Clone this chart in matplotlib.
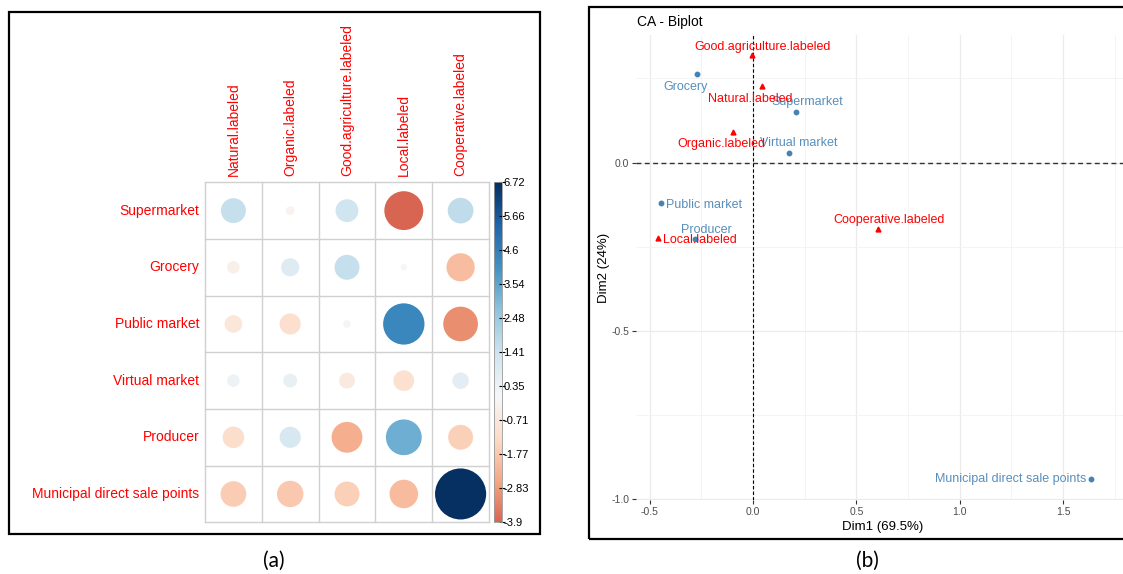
import numpy as np
import matplotlib
matplotlib.use("Agg")
import matplotlib.pyplot as plt
from matplotlib.patches import Circle, Rectangle
from matplotlib.colors import Normalize

plt.rcParams['font.family'] = ['Liberation Sans', 'DejaVu Sans']

# ---- data: (a) residuals of outlet x label ----
outlets = ["Supermarket", "Grocery", "Public market", "Virtual market",
           "Producer", "Municipal direct sale points"]
labels = ["Natural.labeled", "Organic.labeled", "Good.agriculture.labeled",
          "Local.labeled", "Cooperative.labeled"]
res_supermarket = [1.6, -0.2, 1.35, -3.9, 1.7]
res_grocery = [-0.4, 0.85, 1.6, 0.1, -2.05]
res_public = [-0.8, -1.15, 0.15, 4.4, -3.1]
res_virtual = [0.4, 0.5, -0.65, -1.1, 0.7]
res_producer = [-1.2, 1.15, -2.45, 3.3, -1.6]
res_municipal = [-1.7, -1.8, -1.6, -2.1, 6.72]
cbar_ticks = [6.72, 5.66, 4.6, 3.54, 2.48, 1.41, 0.35, -0.71, -1.77, -2.83, -3.9]

# ---- data: (b) CA coordinates ----
row_dim1 = [0.210, -0.271, -0.445, 0.174, -0.279, 1.634]
row_dim2 = [0.151, 0.263, -0.121, 0.029, -0.226, -0.939]
col_dim1 = [0.044, -0.095, -0.003, -0.458, 0.603]
col_dim2 = [0.228, 0.092, 0.320, -0.224, -0.198]

# label offsets in points (text placement only)
row_off = [(7.7, 6.8, 'center'), (-8.1, -9.4, 'center'), (3.6, -1.0, 'left'),
           (7.4, 7.0, 'center'), (8.2, 6.5, 'center'), (-3.4, 0.0, 'right')]
col_off = [(-8.6, -9.4, 'center'), (-8.4, -9.1, 'center'), (7.5, 5.8, 'center'),
           (3.2, -1.2, 'left'), (8.1, 6.5, 'center')]

W, H = 1123, 574
fig = plt.figure(figsize=(W / 100, H / 100), dpi=100)


def px_axes(x0, y0, x1, y1):
    return fig.add_axes([x0 / W, 1 - y1 / H, (x1 - x0) / W, (y1 - y0) / H])


# frames
fig.add_artist(Rectangle((9 / W, 1 - 534 / H), 531 / W, 521.7 / H, transform=fig.transFigure,
                         fill=False, ec='black', lw=1.6))
fig.add_artist(Rectangle((589.3 / W, 1 - 539 / H), 540 / W, 532.3 / H, transform=fig.transFigure,
                         fill=False, ec='black', lw=1.6))

# ---------------- (a) corrplot ----------------
resid = np.array([res_supermarket, res_grocery, res_public, res_virtual,
                  res_producer, res_municipal])
vmax = np.abs(resid).max()
cmap = plt.get_cmap('RdBu')
norm = Normalize(-vmax, vmax)

ax = px_axes(205, 182.3, 489, 522.3)
ax.set_xlim(0, len(labels))
ax.set_ylim(len(outlets), 0)
for i in range(len(outlets)):
    for j in range(len(labels)):
        v = resid[i, j]
        r = 0.45 * np.sqrt(abs(v) / vmax)
        ax.add_patch(Circle((j + 0.5, i + 0.5), r, color=cmap(norm(v)), lw=0))
for k in range(len(labels) + 1):
    ax.axvline(k, color='#D0D0D0', lw=1, clip_on=False)
for k in range(len(outlets) + 1):
    ax.axhline(k, color='#D0D0D0', lw=1, clip_on=False)
for s in ax.spines.values():
    s.set_visible(False)
ax.set_xticks([])
ax.set_yticks([])
for i, name in enumerate(outlets):
    ax.text(-0.1, i + 0.5, name, color='red', fontsize=10, ha='right', va='center')
for j, name in enumerate(labels):
    ax.text(j + 0.5, -0.12, name, color='red', fontsize=10, rotation=90,
            ha='center', va='bottom')

cax = px_axes(494, 182, 502, 522)
grad = np.linspace(min(cbar_ticks), max(cbar_ticks), 300).reshape(-1, 1)
cax.imshow(grad, aspect='auto', cmap=cmap, norm=norm, origin='lower',
           extent=(0, 1, min(cbar_ticks), max(cbar_ticks)))
cax.set_xticks([])
cax.yaxis.tick_right()
cax.set_yticks(cbar_ticks)
cax.set_yticklabels([f"{t:g}" for t in cbar_ticks])
cax.tick_params(axis='y', direction='inout', length=4, width=0.8, pad=-1, labelsize=8)
for s in cax.spines.values():
    s.set_color('#999999')
    s.set_linewidth(0.6)

# ---------------- (b) CA biplot ----------------
bx = px_axes(636, 35, 1130, 500)
bx.set_xlim(-0.566, 1.824)
bx.set_ylim(-1.002, 0.379)
bx.set_xticks([-0.5, 0.0, 0.5, 1.0, 1.5])
bx.set_xticklabels(["-0.5", "0.0", "0.5", "1.0", "1.5"])
bx.set_yticks([-1.0, -0.5, 0.0])
bx.set_yticklabels(["-1.0", "-0.5", "0.0"])
bx.set_xticks([-0.25, 0.25, 0.75, 1.25, 1.75], minor=True)
bx.set_yticks([-0.75, -0.25, 0.25], minor=True)
bx.grid(True, which='major', color='#EBEBEB', lw=0.9)
bx.grid(True, which='minor', color='#F3F3F3', lw=0.6)
bx.set_axisbelow(True)
bx.tick_params(which='major', length=3, width=0.8, color='#333333', labelsize=7.5,
               labelcolor='#4D4D4D', pad=2)
bx.tick_params(which='minor', length=0)
for s in bx.spines.values():
    s.set_visible(False)
bx.axhline(0, color='#333333', lw=1, dashes=(3.5, 2.5))
bx.axvline(0, color='black', lw=0.8, dashes=(3, 2))

blue = '#4682B4'
bx.plot(row_dim1, row_dim2, 'o', color=blue, ms=3.2, ls='none')
bx.plot(col_dim1, col_dim2, '^', color='red', ms=3.5, ls='none')
for name, x, y, (dx, dy, ha) in zip(outlets, row_dim1, row_dim2, row_off):
    bx.annotate(name, (x, y), xytext=(dx, dy), textcoords='offset points',
                ha=ha, va='center', color=blue, fontsize=9, alpha=0.9)
for name, x, y, (dx, dy, ha) in zip(labels, col_dim1, col_dim2, col_off):
    bx.annotate(name, (x, y), xytext=(dx, dy), textcoords='offset points',
                ha=ha, va='center', color='red', fontsize=9)
bx.set_xlabel("Dim1 (69.5%)", fontsize=9.5, labelpad=3)
bx.set_ylabel("Dim2 (24%)", fontsize=9.5, labelpad=1)
fig.text(636.7 / W, 1 - 21.7 / H, "CA - Biplot", fontsize=10, ha='left', va='center')

# panel captions
fig.text(274 / W, 1 - 561 / H, "(a)", fontsize=15, ha='center', va='center',
         family=['Lato', 'DejaVu Sans'])
fig.text(867 / W, 1 - 561 / H, "(b)", fontsize=15, ha='center', va='center',
         family=['Lato', 'DejaVu Sans'])

fig.savefig("out.png", dpi=100)
